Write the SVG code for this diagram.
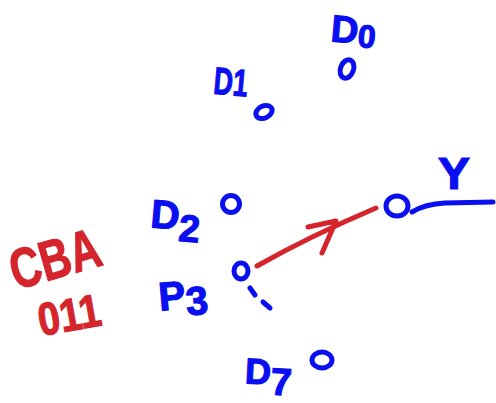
<svg xmlns="http://www.w3.org/2000/svg" width="496" height="403" viewBox="0 0 496 403">
<style>
.b{fill:#0a0ff0;stroke:#0a0ff0;stroke-width:1.2;font-family:"Liberation Sans",Arial,sans-serif;font-weight:bold}
.r{fill:#d4242c;stroke:#d4242c;stroke-width:1.2;font-family:"Liberation Sans",Arial,sans-serif;font-weight:bold}
.bs{fill:none;stroke:#0a0ff0;stroke-width:5;stroke-linecap:round;stroke-linejoin:round}
.rs{fill:none;stroke:#d4242c;stroke-width:5;stroke-linecap:round;stroke-linejoin:round}
</style>
<rect width="496" height="403" fill="#fff"/>
<g id="d0">
<text class="b" x="331" y="43" font-size="38" transform="rotate(5 350 30)">D<tspan dy="3" font-size="32">0</tspan></text>
<ellipse class="bs" cx="347" cy="69" rx="6.5" ry="9.5" transform="rotate(20 347 69)"/>
</g>
<g id="d1">
<text class="b" x="214" y="95" font-size="38" textLength="34" lengthAdjust="spacingAndGlyphs" transform="rotate(5 230 80)">D1</text>
<ellipse class="bs" cx="264" cy="112" rx="8.5" ry="6" transform="rotate(-25 264 112)"/>
</g>
<g id="d2">
<text class="b" x="151" y="229" font-size="40" transform="rotate(5 170 215)">D<tspan dy="11" font-size="38">2</tspan></text>
<ellipse class="bs" cx="231" cy="204" rx="8.5" ry="8.5"/>
</g>
<g id="p3">
<text class="b" x="159" y="309" font-size="40" transform="rotate(-5 180 300)">P<tspan dy="7">3</tspan></text>
<ellipse class="bs" cx="241" cy="271" rx="7" ry="8"/>
<path class="bs" d="M250 288 L255 295 M263 302 L270 308"/>
</g>
<g id="d7">
<text class="b" x="245" y="384" font-size="36" transform="rotate(3 260 375)">D<tspan dy="10" font-size="38">7</tspan></text>
<ellipse class="bs" cx="322" cy="360" rx="10" ry="8"/>
</g>
<g id="out">
<ellipse class="bs" cx="397" cy="206" rx="11" ry="10"/>
<text class="b" x="438" y="189" font-size="44" textLength="32" lengthAdjust="spacingAndGlyphs">Y</text>
</g>
<g id="labels">
<text class="r" x="16" y="290" font-size="56" textLength="92" lengthAdjust="spacingAndGlyphs" transform="rotate(-16 16 290)">CBA</text>
<text class="r" x="41" y="336" font-size="46" textLength="63" lengthAdjust="spacingAndGlyphs" transform="rotate(-10 41 336)">011</text>
</g>
<g id="connectors">
<path class="rs" d="M257 266 Q310 236 376 208"/>
<path class="rs" d="M308 227 L336 221 L322 253"/>
<path class="bs" d="M412 212 Q425 204 445 203 L493 202"/>
</g>
</svg>
